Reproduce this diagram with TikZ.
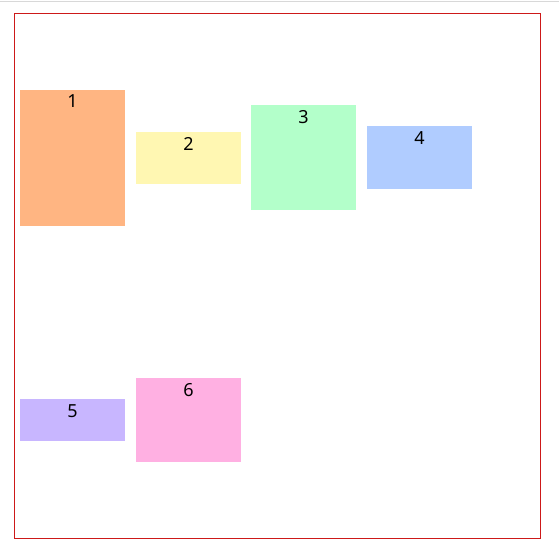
\documentclass[tikz,border=0pt]{standalone}
\usepackage{fontspec}
\setmainfont{Noto Sans}
\usepackage{tikz}
\usetikzlibrary{positioning}
\usepackage{xcolor}
\definecolor{cellorange}{RGB}{255,181,130}
\definecolor{cellyellow}{RGB}{255,247,178}
\definecolor{cellgreen}{RGB}{179,255,202}
\definecolor{cellblue}{RGB}{176,204,255}
\definecolor{cellpurple}{RGB}{200,182,255}
\definecolor{cellpink}{RGB}{255,176,226}
\definecolor{frame}{RGB}{205,25,25}
\definecolor{topline}{RGB}{216,216,216}
\newlength\pxu
\setlength\pxu{0.75pt}

\begin{document}
\begin{tikzpicture}[x=\pxu,y=-\pxu]
\tikzset{cellbox/.style={anchor=north west,inner sep=0pt,outer sep=0pt,minimum width=105\pxu},
  celltxt/.style={anchor=base,inner sep=0pt,font=\fontsize{13.5}{15}\selectfont}}
\useasboundingbox (0,0) rectangle (559,560);

\draw[topline,line width=1\pxu] (0,1.5)--(559,1.5);
\draw[frame,line width=1\pxu] (14.5,13.5) rectangle (540.5,538.5);

% top row
\node[cellbox,fill=cellorange,minimum height=136\pxu] (c1) at (20,90) {};
\node[cellbox,fill=cellyellow,minimum height=52\pxu] (c2) at (136,132) {};
\node[cellbox,fill=cellgreen,minimum height=105\pxu] (c3) at (251,105) {};
\node[cellbox,fill=cellblue,minimum height=63\pxu] (c4) at (367,126) {};
% bottom row
\node[cellbox,fill=cellpurple,minimum height=42\pxu] (c5) at (20,399) {};
\node[cellbox,fill=cellpink,minimum height=84\pxu] (c6) at (136,378) {};

\foreach \i in {1,...,6}
  \node[celltxt] (t\i) at ([yshift=-18\pxu]c\i.north) {\i};
\end{tikzpicture}
\end{document}
